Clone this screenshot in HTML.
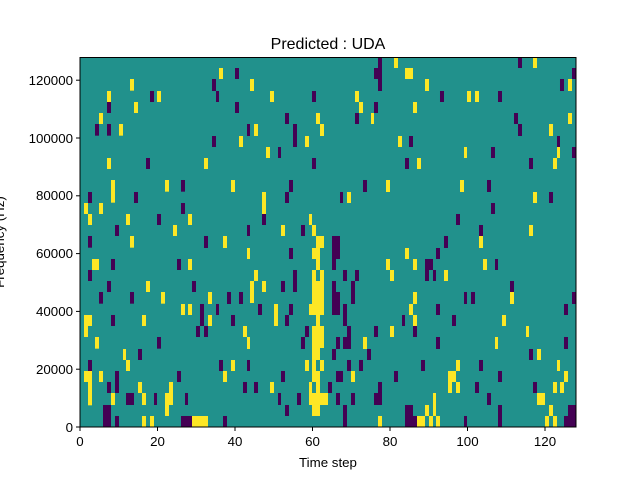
<!DOCTYPE html>
<html><head><meta charset="utf-8"><style>
body{margin:0;background:#fff;}
svg text{font-family:"Liberation Sans","DejaVu Sans",sans-serif;fill:#000;}
</style></head><body>
<svg width="640" height="480" xmlns="http://www.w3.org/2000/svg">
<rect x="80" y="58" width="496" height="369" fill="#21918c"/>
<g transform="translate(80,58) scale(0.33333)">
<g fill="#fde725">
<rect x="150" y="63" width="12" height="35"/><rect x="81" y="99" width="12" height="33"/><rect x="231" y="99" width="12" height="33"/><rect x="162" y="132" width="12" height="33"/><rect x="57" y="165" width="12" height="33"/><rect x="117" y="198" width="12" height="35"/><rect x="81" y="300" width="12" height="33"/><rect x="93" y="366" width="12" height="68"/><rect x="255" y="366" width="12" height="35"/><rect x="12" y="435" width="12" height="33"/><rect x="57" y="435" width="12" height="33"/><rect x="24" y="468" width="12" height="33"/><rect x="138" y="468" width="12" height="33"/><rect x="324" y="468" width="12" height="33"/><rect x="279" y="501" width="12" height="33"/><rect x="150" y="534" width="12" height="35"/><rect x="36" y="603" width="21" height="33"/><rect x="324" y="603" width="12" height="33"/><rect x="198" y="669" width="12" height="33"/><rect x="243" y="702" width="12" height="35"/><rect x="303" y="738" width="12" height="33"/><rect x="324" y="738" width="12" height="33"/><rect x="12" y="771" width="24" height="33"/><rect x="186" y="771" width="12" height="33"/><rect x="12" y="804" width="12" height="33"/><rect x="45" y="837" width="12" height="35"/><rect x="129" y="873" width="9" height="33"/><rect x="138" y="906" width="12" height="33"/><rect x="12" y="939" width="24" height="33"/><rect x="57" y="939" width="12" height="33"/><rect x="24" y="972" width="12" height="70"/><rect x="174" y="972" width="12" height="33"/><rect x="267" y="972" width="12" height="35"/><rect x="93" y="1005" width="12" height="36"/><rect x="186" y="1005" width="12" height="36"/><rect x="255" y="1005" width="24" height="36"/><rect x="255" y="1041" width="12" height="33"/><rect x="186" y="1074" width="12" height="33"/><rect x="210" y="1074" width="12" height="33"/><rect x="336" y="1074" width="36" height="33"/>
</g>
<g fill="#440154">
<rect x="210" y="99" width="12" height="33"/><rect x="81" y="132" width="12" height="33"/><rect x="45" y="198" width="12" height="35"/><rect x="81" y="198" width="12" height="35"/><rect x="198" y="300" width="12" height="33"/><rect x="303" y="366" width="12" height="35"/><rect x="24" y="402" width="12" height="33"/><rect x="162" y="402" width="12" height="33"/><rect x="303" y="435" width="12" height="33"/><rect x="231" y="468" width="12" height="33"/><rect x="105" y="501" width="12" height="33"/><rect x="24" y="534" width="12" height="35"/><rect x="93" y="603" width="12" height="33"/><rect x="291" y="603" width="12" height="33"/><rect x="24" y="636" width="12" height="33"/><rect x="81" y="669" width="12" height="33"/><rect x="336" y="669" width="12" height="33"/><rect x="57" y="702" width="12" height="35"/><rect x="150" y="702" width="12" height="35"/><rect x="360" y="738" width="12" height="66"/><rect x="93" y="771" width="12" height="33"/><rect x="348" y="804" width="12" height="33"/><rect x="231" y="837" width="12" height="35"/><rect x="174" y="873" width="12" height="33"/><rect x="24" y="906" width="12" height="33"/><rect x="105" y="939" width="12" height="66"/><rect x="291" y="939" width="12" height="33"/><rect x="81" y="972" width="12" height="33"/><rect x="138" y="1005" width="24" height="36"/><rect x="222" y="1005" width="9" height="36"/><rect x="315" y="1005" width="9" height="36"/><rect x="69" y="1041" width="24" height="66"/><rect x="105" y="1074" width="12" height="33"/><rect x="303" y="1074" width="33" height="33"/>
</g></g>
<g transform="translate(204,58) scale(0.33333)">
<g fill="#fde725">
<rect x="45" y="30" width="12" height="33"/><rect x="138" y="63" width="12" height="36"/><rect x="198" y="99" width="12" height="33"/><rect x="336" y="165" width="12" height="33"/><rect x="150" y="198" width="12" height="36"/><rect x="348" y="198" width="12" height="36"/><rect x="105" y="234" width="12" height="33"/><rect x="303" y="234" width="12" height="33"/><rect x="186" y="267" width="12" height="33"/><rect x="0" y="300" width="12" height="33"/><rect x="81" y="366" width="12" height="36"/><rect x="174" y="402" width="12" height="66"/><rect x="315" y="468" width="9" height="33"/><rect x="231" y="501" width="12" height="33"/><rect x="324" y="501" width="12" height="33"/><rect x="57" y="534" width="12" height="36"/><rect x="336" y="534" width="24" height="36"/><rect x="129" y="570" width="9" height="33"/><rect x="324" y="570" width="24" height="33"/><rect x="336" y="603" width="12" height="33"/><rect x="150" y="636" width="12" height="33"/><rect x="324" y="636" width="12" height="33"/><rect x="348" y="636" width="12" height="33"/><rect x="138" y="669" width="12" height="66"/><rect x="174" y="669" width="12" height="33"/><rect x="324" y="669" width="36" height="102"/><rect x="12" y="702" width="12" height="36"/><rect x="210" y="738" width="12" height="66"/><rect x="315" y="738" width="45" height="33"/><rect x="12" y="771" width="12" height="33"/><rect x="336" y="771" width="12" height="33"/><rect x="117" y="804" width="12" height="33"/><rect x="324" y="804" width="36" height="66"/><rect x="129" y="837" width="9" height="36"/><rect x="324" y="870" width="24" height="36"/><rect x="81" y="906" width="12" height="33"/><rect x="303" y="906" width="12" height="33"/><rect x="324" y="906" width="12" height="33"/><rect x="348" y="906" width="12" height="33"/><rect x="57" y="939" width="12" height="33"/><rect x="324" y="939" width="24" height="33"/><rect x="198" y="972" width="12" height="33"/><rect x="315" y="972" width="9" height="33"/><rect x="336" y="972" width="12" height="33"/><rect x="315" y="1005" width="57" height="36"/><rect x="324" y="1041" width="24" height="33"/><rect x="0" y="1074" width="12" height="33"/>
</g>
<g fill="#440154">
<rect x="93" y="30" width="12" height="33"/><rect x="24" y="63" width="12" height="36"/><rect x="36" y="99" width="9" height="33"/><rect x="324" y="99" width="12" height="33"/><rect x="93" y="132" width="12" height="33"/><rect x="243" y="165" width="12" height="33"/><rect x="129" y="198" width="9" height="36"/><rect x="267" y="198" width="12" height="69"/><rect x="24" y="234" width="12" height="33"/><rect x="222" y="267" width="9" height="33"/><rect x="324" y="300" width="12" height="33"/><rect x="255" y="366" width="12" height="36"/><rect x="243" y="402" width="12" height="33"/><rect x="174" y="468" width="12" height="33"/><rect x="129" y="501" width="9" height="33"/><rect x="291" y="501" width="12" height="33"/><rect x="0" y="534" width="12" height="36"/><rect x="255" y="570" width="12" height="33"/><rect x="267" y="636" width="12" height="66"/><rect x="231" y="669" width="12" height="33"/><rect x="69" y="702" width="12" height="36"/><rect x="105" y="702" width="12" height="36"/><rect x="36" y="738" width="9" height="33"/><rect x="162" y="738" width="12" height="33"/><rect x="255" y="738" width="12" height="33"/><rect x="81" y="771" width="12" height="33"/><rect x="243" y="771" width="12" height="33"/><rect x="0" y="804" width="12" height="33"/><rect x="303" y="804" width="12" height="33"/><rect x="291" y="837" width="12" height="36"/><rect x="45" y="906" width="12" height="33"/><rect x="129" y="906" width="9" height="33"/><rect x="231" y="939" width="12" height="33"/><rect x="117" y="972" width="12" height="33"/><rect x="150" y="972" width="12" height="33"/><rect x="222" y="1005" width="9" height="36"/><rect x="279" y="1005" width="12" height="36"/><rect x="243" y="1041" width="12" height="33"/><rect x="57" y="1074" width="12" height="33"/>
</g></g>
<g transform="translate(328,58) scale(0.33333)">
<g fill="#fde725">
<rect x="198" y="0" width="12" height="30"/><rect x="231" y="30" width="24" height="33"/><rect x="291" y="63" width="12" height="36"/><rect x="81" y="99" width="12" height="33"/><rect x="93" y="132" width="12" height="33"/><rect x="255" y="132" width="12" height="33"/><rect x="129" y="165" width="9" height="33"/><rect x="210" y="234" width="12" height="33"/><rect x="267" y="300" width="12" height="33"/><rect x="174" y="366" width="12" height="36"/><rect x="57" y="402" width="12" height="33"/><rect x="231" y="570" width="12" height="33"/><rect x="174" y="603" width="12" height="33"/><rect x="255" y="603" width="12" height="33"/><rect x="186" y="636" width="12" height="33"/><rect x="348" y="636" width="12" height="33"/><rect x="255" y="702" width="12" height="36"/><rect x="243" y="738" width="12" height="33"/><rect x="255" y="771" width="12" height="33"/><rect x="186" y="804" width="12" height="33"/><rect x="105" y="837" width="12" height="36"/><rect x="69" y="939" width="12" height="33"/><rect x="360" y="939" width="12" height="66"/><rect x="315" y="1005" width="9" height="69"/><rect x="291" y="1041" width="12" height="33"/><rect x="150" y="1074" width="12" height="33"/><rect x="267" y="1074" width="24" height="33"/><rect x="303" y="1074" width="12" height="33"/><rect x="324" y="1074" width="12" height="33"/>
</g>
<g fill="#440154">
<rect x="150" y="0" width="12" height="30"/><rect x="138" y="30" width="24" height="33"/><rect x="150" y="63" width="12" height="36"/><rect x="336" y="99" width="12" height="33"/><rect x="138" y="132" width="12" height="33"/><rect x="81" y="165" width="12" height="33"/><rect x="243" y="234" width="12" height="33"/><rect x="231" y="300" width="12" height="33"/><rect x="105" y="366" width="12" height="36"/><rect x="36" y="402" width="9" height="33"/><rect x="12" y="534" width="24" height="69"/><rect x="348" y="534" width="12" height="36"/><rect x="324" y="570" width="12" height="33"/><rect x="12" y="603" width="12" height="33"/><rect x="291" y="603" width="24" height="33"/><rect x="45" y="636" width="12" height="33"/><rect x="81" y="636" width="12" height="33"/><rect x="291" y="636" width="12" height="33"/><rect x="315" y="636" width="9" height="33"/><rect x="12" y="669" width="12" height="33"/><rect x="69" y="669" width="12" height="69"/><rect x="12" y="702" width="24" height="69"/><rect x="45" y="738" width="12" height="66"/><rect x="324" y="738" width="12" height="33"/><rect x="222" y="771" width="9" height="33"/><rect x="57" y="804" width="12" height="33"/><rect x="138" y="804" width="12" height="33"/><rect x="255" y="804" width="12" height="33"/><rect x="24" y="837" width="12" height="36"/><rect x="45" y="837" width="24" height="36"/><rect x="324" y="837" width="12" height="36"/><rect x="12" y="873" width="12" height="33"/><rect x="117" y="873" width="12" height="33"/><rect x="57" y="906" width="12" height="33"/><rect x="93" y="906" width="12" height="33"/><rect x="279" y="906" width="12" height="33"/><rect x="24" y="939" width="21" height="33"/><rect x="198" y="939" width="12" height="33"/><rect x="0" y="972" width="12" height="33"/><rect x="150" y="972" width="12" height="33"/><rect x="24" y="1005" width="12" height="36"/><rect x="69" y="1005" width="12" height="36"/><rect x="138" y="1005" width="24" height="36"/><rect x="45" y="1041" width="12" height="66"/><rect x="231" y="1041" width="24" height="66"/><rect x="255" y="1074" width="12" height="33"/>
</g></g>
<g transform="translate(452,58) scale(0.33333)">
<g fill="#fde725">
<rect x="243" y="0" width="12" height="30"/><rect x="348" y="63" width="12" height="36"/><rect x="45" y="99" width="12" height="33"/><rect x="69" y="99" width="12" height="33"/><rect x="348" y="165" width="12" height="33"/><rect x="291" y="198" width="12" height="36"/><rect x="36" y="267" width="9" height="33"/><rect x="315" y="267" width="9" height="33"/><rect x="303" y="300" width="12" height="33"/><rect x="24" y="366" width="12" height="36"/><rect x="243" y="402" width="12" height="33"/><rect x="231" y="501" width="12" height="33"/><rect x="81" y="534" width="12" height="36"/><rect x="93" y="603" width="12" height="33"/><rect x="174" y="702" width="12" height="36"/><rect x="150" y="771" width="12" height="33"/><rect x="222" y="804" width="9" height="33"/><rect x="129" y="837" width="9" height="36"/><rect x="255" y="873" width="12" height="33"/><rect x="12" y="906" width="12" height="33"/><rect x="315" y="906" width="9" height="33"/><rect x="0" y="939" width="12" height="33"/><rect x="336" y="939" width="12" height="33"/><rect x="12" y="972" width="12" height="33"/><rect x="303" y="972" width="12" height="33"/><rect x="324" y="972" width="12" height="33"/><rect x="255" y="1005" width="24" height="36"/><rect x="291" y="1041" width="12" height="33"/><rect x="279" y="1074" width="12" height="33"/><rect x="303" y="1074" width="12" height="33"/>
</g>
<g fill="#440154">
<rect x="198" y="0" width="12" height="30"/><rect x="360" y="30" width="12" height="33"/><rect x="324" y="63" width="12" height="36"/><rect x="138" y="99" width="12" height="33"/><rect x="186" y="165" width="12" height="33"/><rect x="198" y="198" width="12" height="36"/><rect x="315" y="234" width="9" height="33"/><rect x="117" y="267" width="12" height="33"/><rect x="360" y="267" width="12" height="33"/><rect x="231" y="300" width="12" height="33"/><rect x="105" y="366" width="12" height="36"/><rect x="291" y="402" width="12" height="33"/><rect x="117" y="435" width="12" height="33"/><rect x="12" y="468" width="12" height="33"/><rect x="81" y="501" width="12" height="33"/><rect x="129" y="603" width="9" height="33"/><rect x="174" y="669" width="12" height="33"/><rect x="36" y="702" width="9" height="36"/><rect x="57" y="702" width="12" height="36"/><rect x="360" y="702" width="12" height="36"/><rect x="336" y="738" width="12" height="33"/><rect x="0" y="771" width="12" height="33"/><rect x="336" y="837" width="12" height="36"/><rect x="231" y="873" width="12" height="33"/><rect x="81" y="906" width="12" height="33"/><rect x="138" y="939" width="12" height="33"/><rect x="69" y="972" width="12" height="33"/><rect x="243" y="972" width="12" height="33"/><rect x="105" y="1005" width="12" height="36"/><rect x="138" y="1041" width="12" height="66"/><rect x="348" y="1041" width="24" height="66"/><rect x="36" y="1074" width="9" height="33"/><rect x="336" y="1074" width="12" height="33"/>
</g></g>
<rect x="80" y="57.5" width="496" height="369.5" fill="none" stroke="#000" stroke-width="1"/>
<g stroke="#000" stroke-width="1">
<line x1="80" y1="427" x2="80" y2="431"/><line x1="157.5" y1="427" x2="157.5" y2="431"/><line x1="235" y1="427" x2="235" y2="431"/><line x1="312.5" y1="427" x2="312.5" y2="431"/><line x1="390" y1="427" x2="390" y2="431"/><line x1="467.5" y1="427" x2="467.5" y2="431"/><line x1="545" y1="427" x2="545" y2="431"/>
<line x1="76" y1="427" x2="80" y2="427"/><line x1="76" y1="369.2" x2="80" y2="369.2"/><line x1="76" y1="311.4" x2="80" y2="311.4"/><line x1="76" y1="253.6" x2="80" y2="253.6"/><line x1="76" y1="195.8" x2="80" y2="195.8"/><line x1="76" y1="138" x2="80" y2="138"/><line x1="76" y1="80.2" x2="80" y2="80.2"/>
</g>
<g font-size="13.3" text-anchor="middle">
<text x="80" y="446">0</text><text x="157.5" y="446">20</text><text x="235" y="446">40</text><text x="312.5" y="446">60</text><text x="390" y="446">80</text><text x="467.5" y="446">100</text><text x="545" y="446">120</text>
</g>
<g font-size="13.3" text-anchor="end">
<text x="73" y="432">0</text><text x="73" y="374">20000</text><text x="73" y="316">40000</text><text x="73" y="258">60000</text><text x="73" y="200">80000</text><text x="73" y="143">100000</text><text x="73" y="85">120000</text>
</g>
<text x="328" y="467" font-size="13.3" text-anchor="middle">Time step</text>
<text transform="translate(4,242) rotate(-90)" font-size="13.3" text-anchor="middle">Frequency (Hz)</text>
<text x="328" y="49" font-size="16" text-anchor="middle">Predicted : UDA</text>
</svg>
</body></html>
